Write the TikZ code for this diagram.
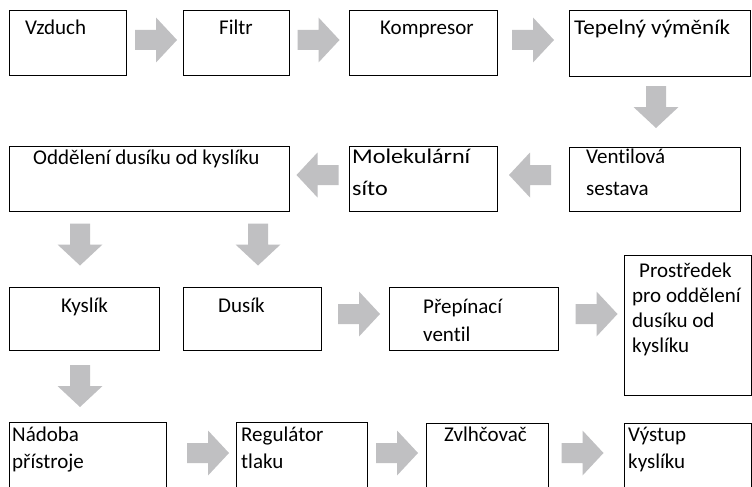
\documentclass[tikz,border=0pt]{standalone}
\usepackage{fontspec}
\setmainfont{Carlito}[Ligatures=NoCommon]
\definecolor{arrowgray}{HTML}{C0C0C2}
\tikzset{
  box/.style={draw=black, line width=1.2pt, fill=white, inner sep=0pt, anchor=north west},
  txt/.style={inner sep=0pt, anchor=base west, align=left, font=\fontsize{21}{27}\selectfont},
  rarrow/.pic={\fill[arrowgray] (-21,-10) -- (0,-10) -- (0,-22.5) -- (21,0) -- (0,22.5) -- (0,10) -- (-21,10) -- cycle;}
}
\begin{document}
\begin{tikzpicture}[x=1pt,y=-1pt]
\clip (0,0) rectangle (752,487);
\fill[white] (0,0) rectangle (752,487);
% row 1
\node[box, minimum width=117pt, minimum height=65pt] (vzduch) at (9,10) {};
\node[box, minimum width=106pt, minimum height=65pt] (filtr) at (183,10) {};
\node[box, minimum width=148pt, minimum height=65pt] (kompresor) at (349,10) {};
\node[box, minimum width=181pt, minimum height=66pt] (tepelny) at (569,10) {};
% row 2
\node[box, minimum width=280pt, minimum height=65pt] (oddeleni) at (9,146) {};
\node[box, minimum width=148pt, minimum height=65pt] (sito) at (349,146) {};
\node[box, minimum width=171pt, minimum height=64pt] (ventilova) at (569,147) {};
% row 3
\node[box, minimum width=150pt, minimum height=63pt] (kyslik) at (9,287) {};
\node[box, minimum width=138pt, minimum height=63pt] (dusik) at (183,287) {};
\node[box, minimum width=169pt, minimum height=63pt] (prepinaci) at (389,287) {};
\node[box, minimum width=127pt, minimum height=140pt] (prostredek) at (624,255) {};
% row 4
\node[box, minimum width=157pt, minimum height=80pt] (nadoba) at (9,422) {};
\node[box, minimum width=131pt, minimum height=80pt] (regulator) at (236,422) {};
\node[box, minimum width=122pt, minimum height=80pt] (zvlhcovac) at (426,423) {};
\node[box, minimum width=127pt, minimum height=80pt] (vystup) at (624,423) {};
% texts (anchor = baseline of last line)
\node[txt] (t1) at (25,35) {Vzduch};
\node[txt] (t2) at (219,35) {Filtr};
\node[txt] (t3) at (380,35) {Kompresor};
\node[txt] (t4) at (574,35) {\scalebox{1.1}[1]{Tepelný výměník}};
\node[txt] (t5) at (33,164) {Oddělení dusíku od kyslíku};
\node[txt, font=\fontsize{21}{32}\selectfont] (t6) at (352,195) {\scalebox{1.15}[1]{Molekulární}\\\scalebox{1.15}[1]{síto}};
\node[txt, font=\fontsize{21}{32}\selectfont] (t7) at (586,195) {Ventilová\\sestava};
\node[txt] (t8) at (61,312) {Kyslík};
\node[txt] (t9) at (218,312) {Dusík};
\node[txt, font=\fontsize{21}{28}\selectfont] (t10) at (423,341) {Přepínací\\ventil};
\node[txt, font=\fontsize{21}{24.7}\selectfont] (t11) at (632,352) {\hspace*{7pt}Prostředek\\pro oddělení\\dusíku od\\kyslíku};
\node[txt] (t12) at (12,468) {Nádoba\\přístroje};
\node[txt] (t13) at (241,468) {Regulátor\\tlaku};
\node[txt] (t14) at (444,441) {Zvlhčovač};
\node[txt] (t15) at (628,468) {Výstup\\kyslíku};
% block arrows
\path (156,40) pic{rarrow};
\path (318.5,40) pic{rarrow};
\path (533,40) pic{rarrow};
\path (656,107) pic[rotate=-90]{rarrow};
\path (317.5,175) pic[rotate=180]{rarrow};
\path (530,175) pic[rotate=180]{rarrow};
\path (80,244.5) pic[rotate=-90]{rarrow};
\path (258,244.5) pic[rotate=-90]{rarrow};
\path (359,314) pic{rarrow};
\path (596.5,314) pic{rarrow};
\path (80,386) pic[rotate=-90]{rarrow};
\path (208,453) pic{rarrow};
\path (397,453) pic{rarrow};
\path (582.5,453) pic{rarrow};
\end{tikzpicture}
\end{document}
